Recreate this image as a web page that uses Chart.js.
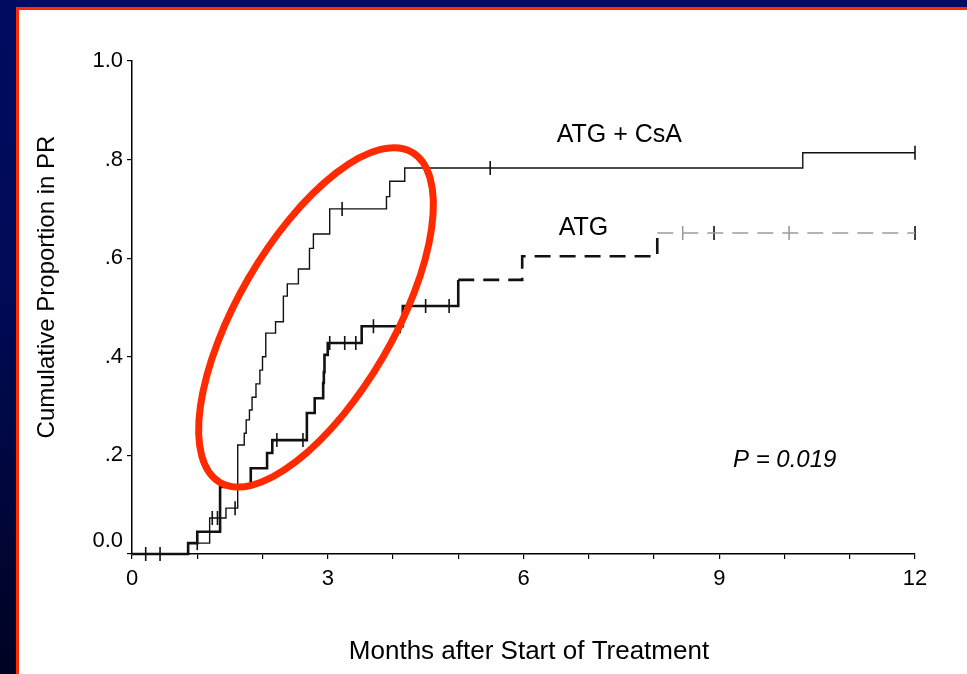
<!DOCTYPE html>
<html>
<head>
<meta charset="utf-8">
<script src="https://cdn.jsdelivr.net/npm/chart.js@4/dist/chart.umd.min.js"></script>
<style>
  html, body { margin: 0; padding: 0; width: 967px; height: 674px; overflow: hidden;
    background: linear-gradient(#000c60 0%, #000a55 45%, #000322 100%); }
  #panel { position: absolute; left: 16px; top: 7px; right: 0; bottom: 0; background: #fff;
    border-left: 3px solid #ff2a00; border-top: 3px solid #ff2a00; }
  #c { position: absolute; left: 0; top: 0; }
</style>
</head>
<body>
<div id="panel"></div>
<canvas id="c" width="967" height="674"></canvas>
<script>
// Axis ticks
const monthTicks = [0, 3, 6, 9, 12];
const propTickLabels = ['0.0', '.2', '.4', '.6', '.8', '1.0'];

// ATG + CsA: step times (months) and cumulative proportion reached at each step
const csaTimes = [0, 0.86, 1.19, 1.44, 1.62, 1.72, 1.75, 1.80, 1.84, 1.90, 1.96, 2.00, 2.05, 2.20, 2.32, 2.38, 2.55, 2.72, 2.78, 3.03, 3.90, 3.95, 4.18, 10.28, 12];
const csaProps = [0, 0.022, 0.073, 0.093, 0.221, 0.245, 0.272, 0.292, 0.318, 0.345, 0.373, 0.40, 0.448, 0.471, 0.523, 0.548, 0.578, 0.62, 0.649, 0.70, 0.725, 0.756, 0.783, 0.814, 0.814];
// ATG + CsA censored observations
const csaCensorTimes = [0.21, 0.43, 1.0, 1.23, 1.31, 1.58, 3.22, 5.49, 12];
const csaCensorProps = [0, 0, 0.022, 0.073, 0.073, 0.093, 0.70, 0.783, 0.814];

// ATG alone: step times and cumulative proportion
const atgTimes = [0, 0.86, 1.0, 1.35, 1.82, 2.07, 2.15, 2.68, 2.80, 2.93, 2.94, 2.95, 3.0, 3.52, 4.15, 5.0, 5.98, 8.05, 12];
const atgProps = [0, 0.022, 0.045, 0.136, 0.174, 0.205, 0.231, 0.286, 0.316, 0.347, 0.369, 0.404, 0.428, 0.462, 0.503, 0.556, 0.604, 0.651, 0.651];
// ATG censored observations
const atgCensorTimes = [2.22, 2.62, 3.03, 3.26, 3.43, 3.7, 4.11, 4.5, 4.86, 8.44, 8.92, 10.07, 12];
const atgCensorProps = [0.231, 0.231, 0.428, 0.428, 0.428, 0.462, 0.462, 0.503, 0.503, 0.651, 0.651, 0.651, 0.651];

const pValueText = 'P = 0.019';

const zip = (xs, ys) => xs.map((x, i) => ({ x: x, y: ys[i] }));
const FONT = '"Liberation Sans", Arial, Helvetica, sans-serif';

// Curve labels, the p-value and the highlight ring around the early rise
const decor = {
  id: 'decor',
  afterDatasetsDraw(chart) {
    const { ctx, scales: { x, y } } = chart;
    ctx.save();
    ctx.fillStyle = '#000';
    ctx.textBaseline = 'middle';
    ctx.textAlign = 'left';
    ctx.font = '25px ' + FONT;
    ctx.fillText(chart.data.datasets[0].label, x.getPixelForValue(6.51), y.getPixelForValue(0.85));
    ctx.fillText(chart.data.datasets[2].label, x.getPixelForValue(6.54), y.getPixelForValue(0.661));
    ctx.font = 'italic 24px ' + FONT;
    ctx.fillText(pValueText, x.getPixelForValue(9.21), y.getPixelForValue(0.189));

    ctx.strokeStyle = '#ff2a00';
    ctx.lineWidth = 7;
    ctx.beginPath();
    ctx.ellipse(x.getPixelForValue(2.82), y.getPixelForValue(0.48), 191, 78, -59.8 * Math.PI / 180, 0, Math.PI * 2);
    ctx.stroke();

    // axis titles
    ctx.textAlign = 'center';
    ctx.font = '26px ' + FONT;
    ctx.fillText('Months after Start of Treatment', 529, 652);
    ctx.font = '24px ' + FONT;
    ctx.translate(47, 287);
    ctx.rotate(-Math.PI / 2);
    ctx.fillText('Cumulative Proportion in PR', 0, 0);
    ctx.restore();
  }
};

const censorStyle = {
  type: 'scatter',
  showLine: false,
  pointStyle: 'line',
  rotation: 90,
  pointRadius: 7,
  pointHoverRadius: 7,
  borderWidth: 1.6,
  clip: false
};

new Chart(document.getElementById('c'), {
  type: 'line',
  data: {
    datasets: [
      {
        label: 'ATG + CsA',
        data: zip(csaTimes, csaProps),
        stepped: true,
        borderColor: '#111',
        borderWidth: 1.4,
        pointRadius: 0,
        clip: false
      },
      Object.assign({
        label: 'ATG + CsA censored',
        data: zip(csaCensorTimes, csaCensorProps),
        borderColor: '#111'
      }, censorStyle),
      {
        label: 'ATG',
        data: zip(atgTimes, atgProps),
        stepped: true,
        borderColor: '#111',
        borderWidth: 2.6,
        pointRadius: 0,
        clip: false,
        segment: {
          borderDash: c => c.p0.parsed.x >= 4.99 ? [16, 9] : undefined,
          borderColor: c => c.p0.parsed.x >= 8 ? '#9c9c9c' : '#111',
          borderWidth: c => c.p0.parsed.x >= 8 ? 1.6 : 2.6
        }
      },
      Object.assign({
        label: 'ATG censored',
        data: zip(atgCensorTimes, atgCensorProps),
        borderColor: atgCensorTimes.map((t, i) => (t >= 8 && (i % 2 === 1)) ? '#9c9c9c' : '#111')
      }, censorStyle)
    ]
  },
  options: {
    responsive: false,
    animation: false,
    devicePixelRatio: 1,
    layout: { padding: { left: 0, right: 52, top: 61, bottom: 0 } },
    plugins: { legend: { display: false }, tooltip: { enabled: false } },
    scales: {
      x: {
        type: 'linear',
        min: 0,
        max: 12,
        afterBuildTicks: s => { s.ticks = Array.from({ length: 13 }, (_, i) => ({ value: i })); },
        afterFit: s => { s.height = 120; },
        ticks: {
          color: '#000',
          font: { family: FONT, size: 22 },
          padding: 7,
          maxRotation: 0,
          autoSkip: false,
          callback: v => monthTicks.includes(v) ? String(v) : ''
        },
        grid: { display: true, drawOnChartArea: false, drawTicks: true, tickLength: 5, color: '#000', lineWidth: 1.2 },
        border: { display: true, color: '#000', width: 1.5 }
      },
      y: {
        min: 0,
        max: 1,
        afterBuildTicks: s => { s.ticks = propTickLabels.map((_, i) => ({ value: i / 5 })); },
        afterFit: s => { s.width = 132; },
        ticks: {
          color: '#000',
          font: { family: FONT, size: 22 },
          padding: 4,
          autoSkip: false,
          callback: (v, i) => i === 0 ? [propTickLabels[i], ''] : propTickLabels[i]
        },
        grid: { display: true, drawOnChartArea: false, drawTicks: true, tickLength: 5, color: '#000', lineWidth: 1.2 },
        border: { display: true, color: '#000', width: 1.5 }
      }
    }
  },
  plugins: [decor]
});
</script>
</body>
</html>
